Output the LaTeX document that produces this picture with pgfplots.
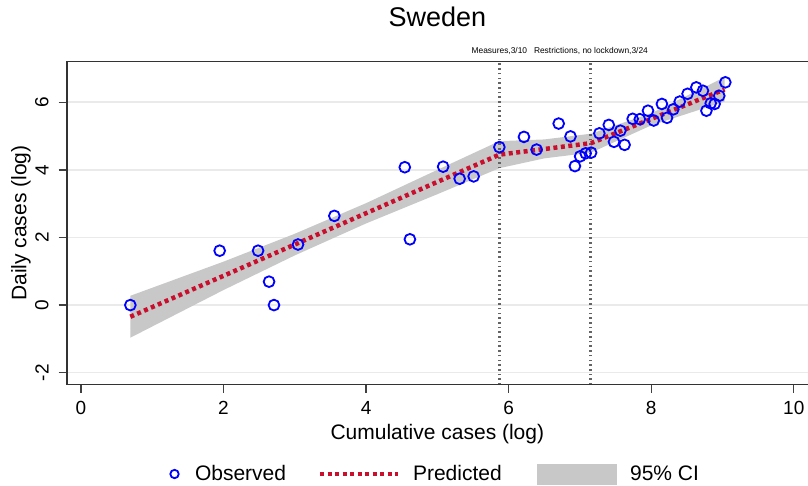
\documentclass[border=0pt]{standalone}
\usepackage{fontspec}
\setmainfont{Liberation Sans}
\usepackage{pgfplots}
\pgfplotsset{compat=1.18}
\definecolor{obsblue}{RGB}{0,0,255}
\definecolor{predred}{RGB}{200,16,46}
\definecolor{cigray}{RGB}{200,200,200}
\definecolor{gridgray}{RGB}{234,234,234}
\definecolor{vline}{RGB}{100,100,100}
\begin{document}
\begin{tikzpicture}
\useasboundingbox (0,0) rectangle (808pt,486pt);
\begin{axis}[
  at={(66.7pt,101.3pt)}, anchor=south west,
  scale only axis, width=741.3pt, height=323pt,
  xmin=-0.2, xmax=10.2, ymin=-2.355, ymax=7.2,
  clip=false,
  axis line style={draw=none},
  xtick={0,2,4,6,8,10}, ytick={-2,0,2,4,6},
  tick align=outside, xtick pos=bottom, ytick pos=left,
  major tick length=8pt,
  tick style={black!75, line width=1.3pt},
  ymajorgrids, grid style={draw=gridgray, line width=1.6pt},
  /pgf/number format/assume math mode=true,
  ticklabel style={font=\fontsize{19}{19}\selectfont},
  xticklabel style={yshift=-5pt},
  yticklabel style={rotate=90, anchor=south, inner sep=10pt},
  xlabel={Cumulative cases (log)},
  ylabel={Daily cases (log)},
  xlabel style={at={(axis description cs:0.5,-0.1214)}, anchor=north, inner sep=0pt, font=\fontsize{21}{21}\selectfont},
  ylabel style={at={(axis description cs:-0.0482,0.5)}, anchor=south, inner sep=0pt, font=\fontsize{21}{21}\selectfont},
  title={Sweden},
  title style={at={(axis description cs:0.5,1.0898)}, anchor=base, inner sep=0pt, font=\fontsize{27}{27}\selectfont},
  legend columns=3,
  legend cell align=left,
  legend style={at={(axis description cs:0.1232,-0.2765)}, anchor=west, draw=none, fill=none,
    inner sep=0pt, outer sep=0pt, font=\fontsize{21}{21}\selectfont,
    nodes={inner sep=0pt}, /tikz/every even column/.style={column sep=0pt}},
]
% CI band
\addplot[fill=cigray, draw=none, forget plot] coordinates {
 (0.693,0.275) (2.0,1.285) (3.0,2.11) (4.0,3.015) (5.0,4.0) (5.87,4.85) (6.5,4.90) (7.155,5.07) (8.0,5.675) (9.03,6.74)
 (9.03,6.02) (8.0,5.315) (7.155,4.51) (6.5,4.34) (5.87,4.05) (5.0,3.28) (4.0,2.415) (3.0,1.47) (2.0,0.445) (0.693,-0.965)
} -- cycle;
% vertical event lines
\addplot[vline, line width=3pt, dash pattern=on 1.6pt off 3.1pt, forget plot] coordinates {(5.87,-2.355) (5.87,7.2)};
\addplot[vline, line width=3pt, dash pattern=on 1.6pt off 3.1pt, forget plot] coordinates {(7.155,-2.355) (7.155,7.2)};
% predicted
\addplot[predred, line width=4.5pt, dash pattern=on 4pt off 3.5pt, forget plot] coordinates {
 (0.693,-0.345) (5.87,4.45) (7.155,4.79) (9.03,6.38)
};
% observed
\addplot[only marks, mark=o, mark size=5.4pt, mark options={obsblue, line width=1.8pt}, forget plot] coordinates {
(0.693,0) (1.946,1.609) (2.485,1.609) (2.639,0.693) (2.708,0) (3.045,1.792) (3.555,2.639)
(4.543,4.078) (4.615,1.946) (5.081,4.094) (5.313,3.738) (5.509,3.807) (5.870,4.673)
(6.215,4.975) (6.392,4.600) (6.702,5.370) (6.868,4.990) (6.930,4.111) (7.003,4.400)
(7.081,4.490) (7.157,4.510) (7.273,5.080) (7.405,5.330) (7.478,4.830) (7.568,5.160)
(7.627,4.740) (7.740,5.510) (7.840,5.500) (7.955,5.750) (8.035,5.460) (8.150,5.950)
(8.222,5.540) (8.310,5.790) (8.400,6.020) (8.510,6.250) (8.633,6.440) (8.726,6.340)
(8.775,5.750) (8.835,5.970) (8.890,5.950) (8.955,6.190) (9.040,6.590)
};
% frame
\draw[black!80, line width=1.6pt] (rel axis cs:1,1) -- (rel axis cs:0,1) -- (rel axis cs:0,0) -- (rel axis cs:1,0);
% annotations
\node[anchor=base, inner sep=0pt, font=\fontsize{8.4}{8.4}\selectfont] at (axis cs:5.87,7.43) {Measures,3/10};
\node[anchor=base, inner sep=0pt, font=\fontsize{8.4}{8.4}\selectfont] at (axis cs:7.155,7.43) {Restrictions, no lockdown,3/24};
% legend
\addlegendimage{legend image code/.code={
  \path[draw=none, fill=none] (0pt,-10.5pt) rectangle (37pt,10.5pt);
  \draw[obsblue, line width=1.8pt, mark=o, mark size=4.2pt] plot coordinates {(16.5pt,0pt)};}}
\addlegendentry{Observed}
\addlegendimage{legend image code/.code={
  \path[draw=none, fill=none] (0pt,-10.5pt) rectangle (127pt,10.5pt);
  \draw[predred, line width=4.5pt, dash pattern=on 4pt off 3.5pt] (34pt,0pt) -- (112pt,0pt);}}
\addlegendentry{Predicted}
\addlegendimage{legend image code/.code={
  \path[draw=none, fill=none] (0pt,-10.5pt) rectangle (128.3pt,10.5pt);
  \fill[cigray, draw=none] (35.3pt,-10.5pt) rectangle (115.3pt,10.5pt);}}
\addlegendentry{95\% CI}
\end{axis}
\end{tikzpicture}
\end{document}
